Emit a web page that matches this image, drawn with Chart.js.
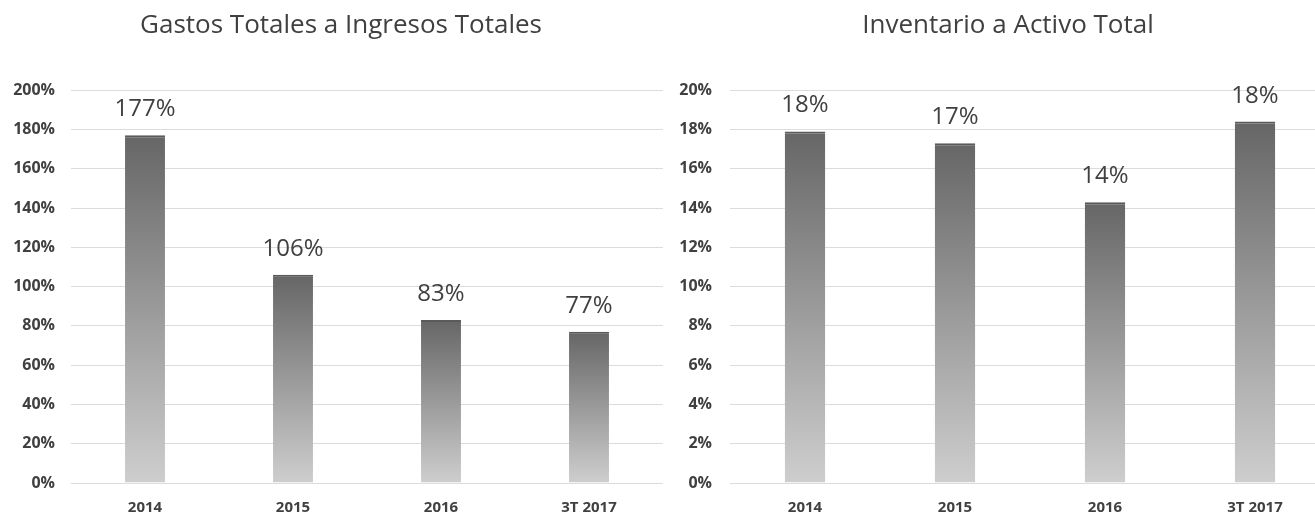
<!DOCTYPE html>
<html>
<head>
<meta charset="utf-8">
<script src="https://cdn.jsdelivr.net/npm/chart.js@4.4.1/dist/chart.umd.min.js"></script>
<style>
  html, body { margin: 0; padding: 0; background: #fff; overflow: hidden; width: 1315px; height: 516px; }
  .box { position: absolute; top: 0; height: 516px; }
</style>
</head>
<body>
<div class="box" style="left:0;width:663px;"><canvas id="left"></canvas></div>
<div class="box" style="left:660px;width:670px;"><canvas id="right"></canvas></div>
<script>
// data
const categories = ['2014', '2015', '2016', '3T 2017'];

const gastosTitle = 'Gastos Totales a Ingresos Totales';
const gastosValues = [177, 106, 83, 77];
const gastosTicks = { min: 0, max: 200, step: 20 };

const inventarioTitle = 'Inventario a Activo Total';
const inventarioValues = [17.9, 17.3, 14.3, 18.4];
const inventarioTicks = { min: 0, max: 20, step: 2 };

const FONT = "'Open Sans', 'DejaVu Sans', sans-serif";
const TEXT = '#404040';

// writes the rounded value above each bar
const valueLabels = {
  id: 'valueLabels',
  afterDatasetsDraw(chart) {
    const ctx = chart.ctx;
    const meta = chart.getDatasetMeta(0);
    ctx.save();
    ctx.font = "24px " + FONT;
    ctx.fillStyle = TEXT;
    ctx.textAlign = 'center';
    ctx.textBaseline = 'alphabetic';
    meta.data.forEach((bar, i) => {
      const v = chart.data.datasets[0].data[i];
      ctx.fillText(Math.round(v) + '%', bar.x, bar.y - 19);
    });
    ctx.restore();
  }
};

// the original titles sit a bit right of the canvas middle
const titleShift = {
  id: 'titleShift',
  afterLayout(chart, args, opts) {
    const b = chart.titleBlock;
    if (!b || opts.center == null) return;
    const half = (b.right - b.left) / 2;
    b.left = opts.center - half;
    b.right = opts.center + half;
  }
};

function barGradient(context) {
  const chart = context.chart;
  if (!chart.chartArea) return '#999';
  const y = chart.scales.y;
  const top = y.getPixelForValue(context.raw);
  const bottom = y.getPixelForValue(0);
  const g = chart.ctx.createLinearGradient(0, top, 0, bottom);
  g.addColorStop(0, '#666666');
  g.addColorStop(1, '#cecece');
  return g;
}

function makeChart(id, title, values, ticks, axisWidth, tickPad, titleCenter) {
  return new Chart(document.getElementById(id), {
    type: 'bar',
    data: {
      labels: categories,
      datasets: [{
        data: values,
        backgroundColor: barGradient,
        borderColor: '#5a5a5a',
        borderWidth: { top: 2, left: 0, right: 0, bottom: 0 },
        borderSkipped: false,
        categoryPercentage: 1,
        barPercentage: 0.27
      }]
    },
    options: {
      responsive: true,
      maintainAspectRatio: false,
      animation: false,
      layout: { padding: 0 },
      plugins: {
        legend: { display: false },
        tooltip: { enabled: false },
        titleShift: { center: titleCenter },
        title: {
          display: true,
          text: title,
          color: TEXT,
          font: { family: FONT, size: 26, weight: 'normal' },
          padding: { top: 10, bottom: 49 }
        }
      },
      scales: {
        x: {
          afterFit(scale) { scale.height = 33; },
          grid: { display: false, drawTicks: false },
          border: { display: false },
          ticks: {
            color: TEXT,
            font: { family: FONT, size: 15, weight: 'bold' },
            padding: 16,
            maxRotation: 0
          }
        },
        y: {
          min: ticks.min,
          max: ticks.max,
          afterFit(scale) { scale.width = axisWidth; },
          grid: { color: '#dcdcdc', lineWidth: 1, drawTicks: false },
          border: { display: false },
          ticks: {
            stepSize: ticks.step,
            color: TEXT,
            font: { family: FONT, size: 16, weight: 'bold' },
            padding: tickPad,
            callback: v => v + '%'
          }
        }
      }
    },
    plugins: [valueLabels, titleShift]
  });
}

makeChart('left', gastosTitle, gastosValues, gastosTicks, 71, 16, 341);
makeChart('right', inventarioTitle, inventarioValues, inventarioTicks, 70, 18, 348);
</script>
</body>
</html>
